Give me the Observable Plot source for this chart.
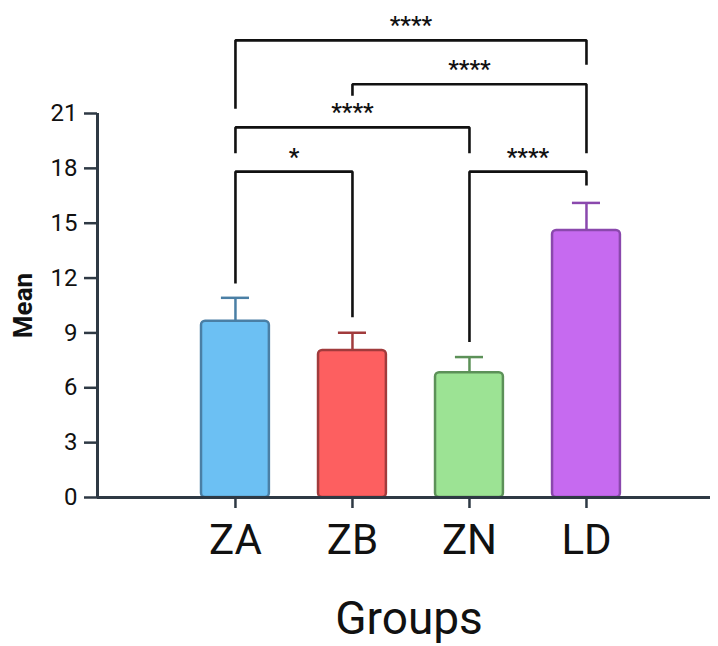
<!DOCTYPE html>
<html>
<head>
<meta charset="utf-8">
<script src="https://cdn.jsdelivr.net/npm/d3@7"></script>
<script src="https://cdn.jsdelivr.net/npm/@observablehq/plot@0.6"></script>
<style>
  html, body { margin: 0; padding: 0; background: #fff; }
  #chart svg { display: block; }
</style>
</head>
<body>
<div id="chart"></div>
<script>
// ---- data ----
const categories = ["ZA", "ZB", "ZN", "LD"];
const means = [9.64, 8.04, 6.82, 14.6];
const errors = [1.28, 0.97, 0.86, 1.51];
const fills = ["#6cc0f3", "#fd5f60", "#9ce394", "#c66af0"];
const strokes = ["#4a7fa5", "#a13b3c", "#5c9158", "#8a48ad"];
const yTicks = [0, 3, 6, 9, 12, 15, 18, 21];

// significance brackets
const bracketFrom = ["ZA", "ZB", "ZA", "ZA", "ZN"];
const bracketTo = ["LD", "LD", "ZN", "ZB", "LD"];
const bracketLevel = [25.0, 22.6, 20.24, 17.82, 17.82];
const bracketLeftEnd = [21.26, 21.97, 18.82, 11.7, 8.5];
const bracketRightEnd = [23.67, 18.82, 18.82, 9.86, 17.06];
const bracketLabel = ["****", "****", "****", "*", "****"];

// ---- tables ----
const bars = categories.map((c, i) => ({
  i, cat: c, mean: means[i], top: means[i] + errors[i], fill: fills[i], stroke: strokes[i]
}));
const idx = c => categories.indexOf(c);
const bracketPts = [];
const bracketTxt = [];
bracketFrom.forEach((f, k) => {
  const a = idx(f), b = idx(bracketTo[k]);
  bracketPts.push({k, x: a, y: bracketLeftEnd[k]});
  bracketPts.push({k, x: a, y: bracketLevel[k]});
  bracketPts.push({k, x: b, y: bracketLevel[k]});
  bracketPts.push({k, x: b, y: bracketRightEnd[k]});
  bracketTxt.push({x: (a + b) / 2, y: bracketLevel[k], label: bracketLabel[k]});
});

const halfBar = 0.29, halfCap = 0.12;
const axisColor = "#2e3944";

const chart = Plot.plot({
  width: 718,
  height: 646,
  marginLeft: 97,
  marginRight: 8,
  marginTop: 113,
  marginBottom: 149,
  style: {fontFamily: "Roboto", background: "white", color: "#111"},
  x: {type: "linear", domain: [-1.179, 4.06]},
  y: {domain: [0, 21]},
  marks: [
    Plot.rectY(bars, {
      x1: d => d.i - halfBar, x2: d => d.i + halfBar, y1: 0, y2: "mean",
      fill: d => d.fill, stroke: d => d.stroke, strokeWidth: 2.5, rx: 4
    }),
    Plot.ruleX(bars, {x: "i", y1: "mean", y2: "top", stroke: d => d.stroke, strokeWidth: 2.5}),
    Plot.ruleY(bars, {x1: d => d.i - halfCap, x2: d => d.i + halfCap, y: "top", stroke: d => d.stroke, strokeWidth: 2.5}),
    Plot.ruleY([0], {stroke: axisColor, strokeWidth: 3}),
    Plot.ruleX([-1.179], {y1: 0, y2: 21, stroke: axisColor, strokeWidth: 3}),
    Plot.axisY({
      ticks: yTicks, tickSize: 13, tickPadding: 7, fontSize: 24,
      stroke: axisColor, fill: "#111", strokeWidth: 2.5, label: null
    }),
    Plot.axisX({
      ticks: [0, 1, 2, 3], tickFormat: d => categories[d], tickSize: 11, tickPadding: 16,
      fontSize: 42, stroke: axisColor, fill: "#111", strokeWidth: 2.5, label: null
    }),
    Plot.line(bracketPts, {
      x: "x", y: "y", z: "k", stroke: "#111", strokeWidth: 2.6,
      strokeLinejoin: "miter", strokeLinecap: "butt", curve: "linear"
    }),
    Plot.text(bracketTxt, {
      x: "x", y: "y", text: "label", fontSize: 24, fontWeight: 500, lineAnchor: "bottom", dy: -7, fill: "#111"
    }),
    Plot.text(["Mean"], {
      frameAnchor: "left", textAnchor: "middle", dx: -74, rotate: -90, fontSize: 26, fontWeight: "bold", fill: "#111"
    }),
    Plot.text(["Groups"], {
      frameAnchor: "bottom", textAnchor: "middle", dx: 5, dy: 136, lineAnchor: "bottom", fontSize: 46, fill: "#111"
    })
  ]
});
document.getElementById("chart").append(chart);
</script>
</body>
</html>
